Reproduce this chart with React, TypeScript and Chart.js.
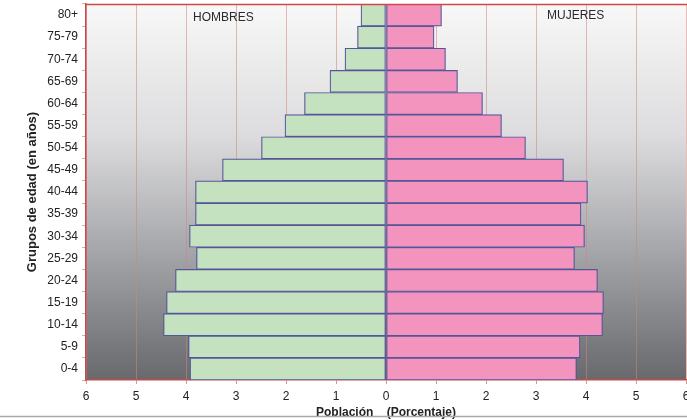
import React, { useEffect, useRef } from "react";
import { Chart, registerables } from "chart.js";

Chart.register(...registerables);

const categories = ["80+", "75-79", "70-74", "65-69", "60-64", "55-59", "50-54", "45-49", "40-44", "35-39", "30-34", "25-29", "20-24", "15-19", "10-14", "5-9", "0-4"];
const hombres = [0.5, 0.57, 0.82, 1.12, 1.63, 2.02, 2.49, 3.27, 3.81, 3.81, 3.93, 3.79, 4.21, 4.39, 4.45, 3.95, 3.92];
const mujeres = [1.11, 0.96, 1.19, 1.43, 1.93, 2.31, 2.79, 3.55, 4.03, 3.9, 3.97, 3.77, 4.23, 4.35, 4.33, 3.88, 3.81];
const xTicks = [-6, -5, -4, -3, -2, -1, 0, 1, 2, 3, 4, 5, 6];

const FONT = "'Liberation Sans', Arial, sans-serif";

const decorPlugin = {
  id: "decor",
  beforeDraw(chart: any) {
    const { ctx, chartArea: a } = chart;
    const g = ctx.createLinearGradient(0, a.top, 0, a.bottom);
    g.addColorStop(0, "#f8f8f8");
    g.addColorStop(0.35, "#dcdcde");
    g.addColorStop(0.68, "#a1a2a6");
    g.addColorStop(1, "#68696d");
    ctx.save();
    ctx.fillStyle = g;
    ctx.fillRect(a.left, a.top, a.right - a.left, a.bottom - a.top);
    ctx.restore();
  },
  afterDraw(chart: any) {
    const { ctx, chartArea: a } = chart;
    ctx.save();
    ctx.strokeStyle = "#c94848";
    ctx.lineWidth = 1.5;
    ctx.beginPath();
    ctx.moveTo(a.left, a.top + 0.5);
    ctx.lineTo(a.right + 10, a.top + 0.5);
    ctx.stroke();
    ctx.fillStyle = "#2a2a2a";
    ctx.font = "12px " + FONT;
    ctx.textBaseline = "middle";
    ctx.textAlign = "left";
    ctx.fillText("HOMBRES", 193, 18);
    ctx.fillText("MUJERES", 547, 16);
    ctx.strokeStyle = "#a8a8a8";
    ctx.lineWidth = 1.5;
    ctx.beginPath();
    ctx.moveTo(0, 416.5);
    ctx.lineTo(chart.width, 416.5);
    ctx.stroke();
    ctx.restore();
  },
};

export default function App() {
  const ref = useRef<HTMLCanvasElement | null>(null);
  useEffect(() => {
    if (!ref.current) return;
    const chart = new Chart(ref.current, {
      type: "bar",
      data: {
        labels: categories,
        datasets: [
          {
            label: "HOMBRES",
            data: hombres.map((v) => -v),
            backgroundColor: "#c4e2c0",
            borderColor: "#55559a",
            borderWidth: 1.2,
            borderSkipped: false,
            barPercentage: 1,
            categoryPercentage: 1,
          },
          {
            label: "MUJERES",
            data: mujeres,
            backgroundColor: "#f394be",
            borderColor: "#55559a",
            borderWidth: 1.2,
            borderSkipped: false,
            barPercentage: 1,
            categoryPercentage: 1,
          },
        ],
      },
      options: {
        indexAxis: "y",
        responsive: false,
        animation: false,
        layout: { padding: { top: 4, right: 0, left: 0, bottom: 0 } },
        plugins: { legend: { display: false }, tooltip: { enabled: false } },
        scales: {
          x: {
            type: "linear",
            min: -6,
            max: 6,
            stacked: true,
            afterBuildTicks: (scale: any) => {
              scale.ticks = xTicks.map((v) => ({ value: v }));
            },
            afterFit: (scale: any) => {
              scale.height = 40;
              scale.paddingLeft = 0;
              scale.paddingRight = 4;
            },
            ticks: {
              callback: (v: any) => String(Math.abs(Number(v))),
              color: "#222",
              font: { family: FONT, size: 12 },
              padding: 5,
              maxRotation: 0,
            },
            grid: {
              color: "rgba(205,135,125,0.55)",
              tickColor: "rgba(205,110,100,0.7)",
              tickLength: 4,
              lineWidth: 1,
            },
            border: { color: "#c94848", width: 1.5 },
            title: {
              display: true,
              text: "Población    (Porcentaje)",
              color: "#222",
              font: { family: FONT, size: 12, weight: "bold" },
              padding: { top: 0, bottom: 0 },
            },
          },
          y: {
            stacked: true,
            afterFit: (scale: any) => {
              scale.width = 86;
              scale.paddingTop = 0;
              scale.paddingBottom = 0;
            },
            ticks: {
              color: "#222",
              font: { family: FONT, size: 12 },
              padding: 4,
            },
            grid: {
              drawOnChartArea: false,
              tickColor: "rgba(205,110,100,0.6)",
              tickLength: 4,
            },
            border: { color: "#c94848", width: 1.5 },
            title: {
              display: true,
              text: "Grupos de edad (en años)",
              color: "#222",
              font: { family: FONT, size: 13, weight: "bold" },
              padding: { top: 25, bottom: 0 },
            },
          },
        },
      },
      plugins: [decorPlugin],
    } as any);
    return () => chart.destroy();
  }, []);
  return (
    <div style={{ position: "fixed", left: 0, top: 0, width: 690, height: 420, overflow: "hidden", background: "#fff" }}>
      <canvas ref={ref} width={690} height={420} />
    </div>
  );
}
